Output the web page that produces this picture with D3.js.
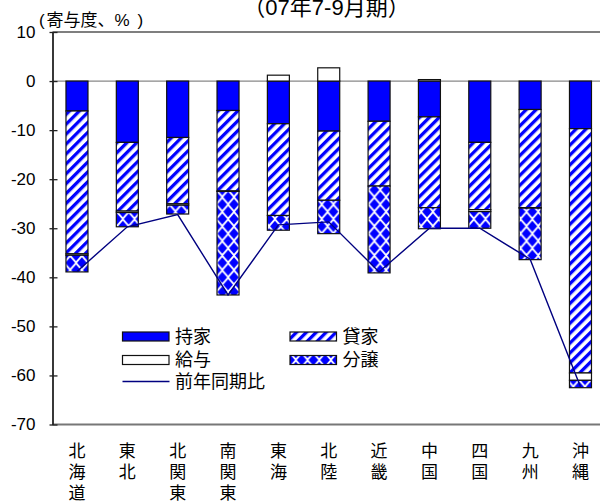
<!DOCTYPE html>
<html>
<head>
<meta charset="utf-8">
<script src="https://cdn.jsdelivr.net/npm/d3@7"></script>
<style>
  html, body { margin: 0; padding: 0; background: #fff; }
  svg { display: block; }
  text { font-family: "Liberation Sans", "Noto Sans CJK JP", sans-serif; }
</style>
</head>
<body>
<div id="chart"></div>
<script>
// data (contribution, %)
const regions = ["北海道", "東北", "北関東", "南関東", "東海", "北陸", "近畿", "中国", "四国", "九州", "沖縄"];
const ownHouse = [-6.1, -12.5, -11.5, -6.0, -8.7, -10.2, -8.2, -7.3, -12.5, -5.8, -9.7];   // 持家
const rental   = [-29.1, -14.0, -13.5, -16.4, -18.7, -14.1, -13.2, -18.5, -13.7, -20.0, -49.8]; // 貸家
const issued   = [-0.3, -0.3, -0.3, -0.1, 1.2, 2.7, 0, 0.3, -0.4, -0.1, -1.5];            // 給与
const forSale  = [-3.4, -2.9, -1.8, -21.1, -3.0, -6.8, -17.7, -4.3, -3.4, -10.5, -1.5];     // 分譲
const yoy      = [-38.8, -29.7, -27.2, -43.6, -29.3, -28.7, -38.9, -30.0, -30.0, -36.3, -62.3]; // 前年同期比
const yTicks = [10, 0, -10, -20, -30, -40, -50, -60, -70];
const seriesKeys = ["持家", "貸家", "給与", "分譲"];

(() => {
  const W = 600, H = 502;
  const left = 52.5, top = 32, bottom = 424.5, right = 620;

  const svg = d3.select("#chart").append("svg")
    .attr("width", W).attr("height", H);

  const defs = svg.append("defs");

  // diagonal stripes for 貸家
  const stripe = defs.append("pattern")
    .attr("id", "stripe")
    .attr("patternUnits", "userSpaceOnUse")
    .attr("width", 7).attr("height", 7)
    .attr("patternTransform", "rotate(45)");
  stripe.append("rect").attr("width", 7).attr("height", 7).attr("fill", "#fff");
  stripe.append("rect").attr("width", 3.3).attr("height", 7).attr("fill", "#0000ff");

  // diamonds for 分譲
  const dia = defs.append("pattern")
    .attr("id", "diamond")
    .attr("patternUnits", "userSpaceOnUse")
    .attr("width", 11.7).attr("height", 14.6);
  dia.append("rect").attr("width", 11.7).attr("height", 14.6).attr("fill", "#fff");
  const dw = 4.9, dh = 5.6;
  [[5.85, 7.3], [0, 0], [11.7, 0], [0, 14.6], [11.7, 14.6]].forEach(([cx, cy]) => {
    dia.append("path")
      .attr("d", `M${cx},${cy - dh}L${cx + dw},${cy}L${cx},${cy + dh}L${cx - dw},${cy}Z`)
      .attr("fill", "#0000ff");
  });

  const fills = { "持家": "#0000ff", "貸家": "url(#stripe)", "給与": "#ffffff", "分譲": "url(#diamond)" };

  const x = d3.scaleBand()
    .domain(regions)
    .range([51.8, 51.8 + 50.35 * regions.length])
    .paddingInner(0.563)
    .paddingOuter(0.2815);

  const y = d3.scaleLinear()
    .domain([-70, 10])
    .range([bottom, top]);

  // frame
  svg.append("line").attr("x1", left).attr("x2", right).attr("y1", top).attr("y2", top)
    .attr("stroke", "#555").attr("stroke-width", 1.3);
  svg.append("line").attr("x1", left).attr("x2", right).attr("y1", bottom).attr("y2", bottom)
    .attr("stroke", "#777").attr("stroke-width", 2);

  // zero line
  svg.append("line").attr("x1", left).attr("x2", right).attr("y1", y(0)).attr("y2", y(0))
    .attr("stroke", "#888").attr("stroke-width", 1.2);

  // y axis
  const axeY = d3.axisLeft(y)
    .tickValues(yTicks)
    .tickSizeInner(-5)
    .tickSizeOuter(0)
    .tickPadding(17)
    .tickFormat(d => d);
  const gy = svg.append("g").attr("transform", `translate(${left},0)`).call(axeY);
  gy.select(".domain").attr("stroke", "#222").attr("stroke-width", 1.8);
  gy.selectAll(".tick line").attr("stroke", "#222").attr("stroke-width", 1.3).attr("x1", -3);
  gy.selectAll("text")
    .style("font-size", "17px")
    .attr("fill", "#000")
    .attr("font-family", "Liberation Sans, Arial, sans-serif");

  // stacked bars
  const table = regions.map((r, i) => ({
    region: r, "持家": ownHouse[i], "貸家": rental[i], "給与": issued[i], "分譲": forSale[i]
  }));
  const stacked = d3.stack().keys(seriesKeys).offset(d3.stackOffsetDiverging)(table);

  stacked.forEach(s => {
    svg.append("g").selectAll("rect")
      .data(s.filter(d => Math.abs(d[1] - d[0]) > 0.01))
      .enter()
      .append("rect")
      .attr("x", d => x(d.data.region))
      .attr("width", x.bandwidth())
      .attr("y", d => y(Math.max(d[0], d[1])))
      .attr("height", d => Math.abs(y(d[0]) - y(d[1])))
      .attr("fill", fills[s.key])
      .attr("stroke", "#111")
      .attr("stroke-width", 1.2);
  });

  // year-on-year line
  const line = d3.line()
    .x((d, i) => x(regions[i]) + x.bandwidth() / 2)
    .y(d => y(d));
  svg.append("path")
    .datum(yoy)
    .attr("d", line)
    .attr("fill", "none")
    .attr("stroke", "#000080")
    .attr("stroke-width", 1.4);

  // category labels, one character per row
  const lab = svg.append("g").selectAll("text")
    .data(regions)
    .enter()
    .append("text")
    .attr("text-anchor", "middle")
    .style("font-size", "17px")
    .attr("fill", "#000");
  lab.each(function(r) {
    const t = d3.select(this);
    const cx = x(r) + x.bandwidth() / 2;
    r.split("").forEach((ch, k) => {
      t.append("tspan")
        .attr("x", cx)
        .attr("y", 451 + k * 21.2)
        .attr("dominant-baseline", "central")
        .text(ch);
    });
  });

  // title and unit
  svg.append("text")
    .attr("x", 326.5).attr("y", 15)
    .attr("text-anchor", "middle")
    .style("font-size", "22px")
    .text("（07年7-9月期）");
  const unit = svg.append("text")
    .attr("y", 26)
    .style("font-size", "17px");
  unit.append("tspan").attr("x", 39).text("(");
  unit.append("tspan").attr("x", 46.5).text("寄与度、%");
  unit.append("tspan").attr("x", 137.5).text(")");

  // legend
  const legend = [
    { key: "持家", x: 122.5, y: 336.5, type: "box" },
    { key: "給与", x: 122.5, y: 360, type: "box" },
    { key: "前年同期比", x: 122.5, y: 381.5, type: "line" },
    { key: "貸家", x: 290, y: 336.5, type: "box" },
    { key: "分譲", x: 290, y: 360, type: "box" }
  ];
  const lg = svg.append("g").selectAll("g")
    .data(legend)
    .enter()
    .append("g")
    .attr("transform", d => `translate(${d.x},${d.y})`);
  lg.filter(d => d.type == "box")
    .append("rect")
    .attr("x", 0).attr("y", -4.5)
    .attr("width", 46.5).attr("height", 9)
    .attr("fill", d => fills[d.key])
    .attr("stroke", "#111")
    .attr("stroke-width", 1.2);
  lg.filter(d => d.type == "line")
    .append("line")
    .attr("x1", 0).attr("x2", 47)
    .attr("stroke", "#000080")
    .attr("stroke-width", 1.4);
  lg.append("text")
    .attr("x", 52.5)
    .attr("dominant-baseline", "central")
    .style("font-size", "18px")
    .text(d => d.key);
})();
</script>
</body>
</html>
